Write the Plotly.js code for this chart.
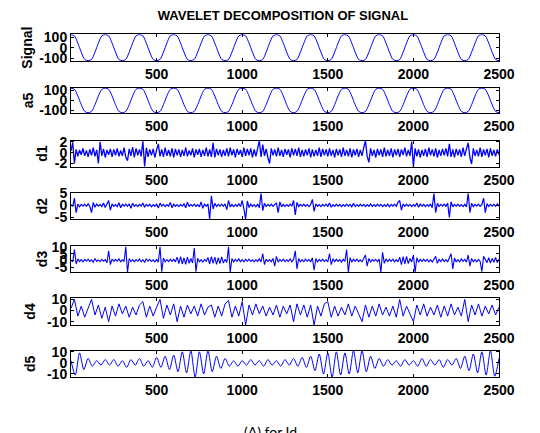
<!DOCTYPE html>
<html>
<head>
<meta charset="utf-8">
<script src="https://cdn.plot.ly/plotly-3.0.1.min.js"></script>
<style>html,body{margin:0;padding:0;background:#fff;}#chart{width:540px;height:433px;}</style>
</head>
<body>
<div id="chart"></div>
<script>
// ---- data ----
const rowNames = ["Signal", "a5", "d1", "d2", "d3", "d4", "d5"];
const xTicks = [500, 1000, 1500, 2000, 2500];

const signalStep = 20;
const signalValues = [
  125,113,43,-43,-113,-125,-113,-43,43,113,
  125,113,43,-43,-113,-125,-113,-43,43,113,
  125,113,43,-43,-113,-125,-113,-43,43,113,
  125,113,43,-43,-113,-125,-113,-43,43,113,
  125,113,43,-43,-113,-125,-113,-43,43,113,
  125,113,43,-43,-113,-125,-113,-43,43,113,
  125,113,43,-43,-113,-125,-113,-43,43,113,
  125,113,43,-43,-113,-125,-113,-43,43,113,
  125,113,43,-43,-113,-125,-113,-43,43,113,
  125,113,43,-43,-113,-125,-113,-43,43,113,
  125,113,43,-43,-113,-125,-113,-43,43,113,
  125,113,43,-43,-113,-125,-113,-43,43,113,
  125,113,43,-43,-113,-125
];

const a5Step = 20;
const a5Values = [
  124,112,44,-44,-112,-125,-112,-44,44,112,
  124,112,44,-44,-112,-125,-112,-44,44,112,
  124,112,44,-44,-112,-125,-112,-44,44,112,
  124,112,44,-44,-112,-125,-112,-44,44,112,
  124,112,44,-44,-112,-125,-112,-44,44,112,
  124,112,44,-44,-112,-125,-112,-44,44,112,
  124,112,44,-44,-112,-125,-112,-44,44,112,
  124,112,44,-44,-112,-125,-112,-44,44,112,
  124,112,44,-44,-112,-125,-112,-44,44,112,
  124,112,44,-44,-112,-125,-112,-44,44,112,
  124,112,44,-44,-112,-125,-112,-44,44,112,
  124,112,44,-44,-112,-125,-112,-44,44,112,
  124,112,44,-44,-112,-125
];

const d1Step = 10;
const d1Values = [
  0.3,1.9,-2.0,0.6,-0.7,0.5,-0.4,0.8,-0.6,0.4,
  -0.8,0.6,-0.5,0.9,-0.7,0.5,-2.0,2.0,-0.6,0.7,
  -0.9,0.5,-0.4,0.7,-0.8,0.6,-0.5,0.8,-0.7,0.4,
  -0.6,0.9,-0.8,-1.5,0.7,-0.6,1.0,-0.9,0.8,-0.5,
  0.6,-0.7,2.1,-2.6,0.9,-0.8,0.6,-0.5,0.7,-0.9,
  0.5,1.6,-0.7,0.6,-0.8,0.9,-0.6,0.5,-0.7,0.8,
  -0.9,0.7,-0.5,0.6,-0.8,0.5,-0.6,0.9,-0.7,0.4,
  -0.5,0.8,-0.9,0.6,-0.4,0.7,-0.8,0.5,-0.6,0.9,
  -0.7,0.6,-0.8,1.8,-0.9,0.7,-0.5,0.6,-0.8,0.5,
  -0.6,0.8,-0.7,0.9,-0.5,0.6,-0.9,0.7,-0.4,0.5,
  -0.8,0.9,-0.6,0.7,-0.5,0.8,-0.9,0.6,-0.7,0.5,
  2.2,-0.8,1.5,-0.6,0.7,-0.9,-2.0,0.8,-0.5,0.6,
  -0.7,0.9,-0.6,0.5,-0.8,0.7,-0.4,0.6,-0.9,0.8,
  -0.5,0.7,-0.6,0.9,-0.8,0.5,-0.7,0.6,-0.5,0.8,
  -0.9,0.6,-0.7,0.5,-0.6,0.9,-0.8,0.7,-0.5,0.6,
  -0.7,0.8,-0.6,0.5,-0.9,0.7,-0.5,0.6,-0.8,0.9,
  -0.6,0.5,-0.7,0.8,-0.9,0.6,-0.5,0.7,-0.8,0.5,
  -0.6,0.9,2.2,-0.7,-1.8,0.8,-0.6,0.5,-0.9,0.7,
  -0.5,0.6,-0.8,0.9,-0.7,0.5,-0.6,0.8,-0.9,0.6,
  -0.5,0.7,-0.8,0.6,-0.4,0.9,-0.7,0.5,-0.6,2.0,
  -2.6,0.8,-0.7,0.6,-0.9,0.5,-0.6,0.7,-0.8,0.9,
  -0.5,0.6,-0.7,0.8,-0.9,0.5,-0.6,0.7,-0.5,0.8,
  -0.7,1.6,-0.8,0.6,-0.9,0.7,-0.5,0.6,-0.8,0.9,
  -0.6,0.7,1.8,-0.9,-2.1,0.8,-0.6,0.5,-0.7,0.9,
  -0.8,0.6,-0.5,0.7,-0.9,0.8,-0.6,0.5,-0.7,0.6,
  -0.4
];

const d2Step = 10;
const d2Values = [
  0.3,-0.4,3.0,-3.0,0.5,-0.6,0.4,-0.3,0.5,-0.4,
  0.6,-0.5,-3.0,1.2,-0.8,0.5,-0.3,0.4,-0.5,1.0,
  -0.9,0.4,2.0,-2.0,0.6,-0.4,0.3,-0.5,1.1,-1.0,
  0.4,-0.3,0.5,-0.4,0.6,-1.2,0.9,-0.4,0.3,-0.5,
  0.4,-0.3,1.0,-0.8,0.4,-0.3,0.5,-0.6,0.3,-0.4,
  0.5,-1.1,0.9,-0.3,0.4,-0.5,0.3,-0.4,1.2,-1.0,
  0.5,-0.4,0.3,-0.5,0.4,-0.3,0.6,-1.0,1.3,-0.5,
  0.4,-0.3,0.5,-0.4,0.3,-0.6,1.4,-1.2,0.5,-0.4,
  0.6,-5.8,4.0,-1.5,0.8,-0.5,0.4,-0.3,0.5,-0.4,
  0.6,-1.8,2.0,-0.7,0.4,-0.5,0.3,-0.4,0.6,-0.5,
  2.0,-1.5,-5.8,1.8,-0.9,0.5,-0.4,0.3,-0.6,0.5,
  -1.0,5.0,-2.2,0.8,-0.5,0.4,-0.3,0.5,-0.4,0.3,
  1.0,-3.0,1.4,-0.6,0.4,-0.5,0.3,-0.4,0.5,-0.3,
  2.0,-4.0,1.2,-0.5,0.4,-0.3,0.5,-0.4,0.3,-0.5,
  0.4,2.5,-2.5,0.6,-0.4,0.3,-0.5,0.4,-0.3,0.5,
  -0.4,1.0,-0.8,0.3,-0.4,0.5,-0.3,0.4,-0.5,0.3,
  -0.4,0.5,-0.3,0.4,-0.6,0.9,-0.5,0.3,-0.4,0.5,
  -0.3,0.4,-0.5,0.3,-0.4,0.6,-0.5,0.3,-0.4,0.5,
  -0.3,0.4,-0.5,0.3,-0.4,0.5,-0.6,0.4,-0.3,0.5,
  -0.4,1.2,2.0,-2.0,0.6,-0.4,0.5,-0.3,0.4,-0.5,
  0.3,-0.4,1.0,-0.8,0.5,-0.3,0.4,-0.5,0.3,-0.4,
  0.6,-1.0,5.0,-3.0,0.8,-0.5,0.4,-0.3,0.5,-0.4,
  0.9,-5.0,1.5,-0.6,0.4,-0.3,0.5,-0.4,0.3,-0.5,
  0.4,-0.6,5.0,-3.0,0.9,-0.5,0.4,-0.3,0.5,-0.4,
  0.3,3.0,-3.0,0.7,-0.5,0.4,-0.3,0.5,-0.4,0.6,
  -0.3
];

const d3Step = 10;
const d3Values = [
  0.5,-1.0,8.0,-2.5,1.2,-0.8,0.6,-1.0,0.8,-0.5,
  1.0,-0.7,0.5,-1.2,1.5,-0.6,0.4,-0.8,0.9,-0.5,
  0.6,-1.5,7.0,-3.0,1.0,-0.6,0.8,-0.5,1.2,-0.9,
  0.5,-0.7,10.0,-8.5,1.5,-0.8,0.6,-1.0,0.7,-0.5,
  1.1,-0.9,0.6,-1.4,1.3,-0.5,0.8,-0.7,0.5,-1.0,
  0.7,-1.2,10.0,-8.0,1.8,-0.9,0.6,-0.8,1.0,-0.6,
  0.9,-1.0,2.5,-2.2,2.8,-2.5,2.0,-2.7,2.4,-2.0,
  1.5,-1.8,9.0,-8.0,1.6,-0.9,0.7,-1.1,0.8,-0.6,
  2.2,-2.5,2.8,-2.0,2.5,-2.8,2.0,-2.3,2.6,-1.8,
  1.0,-1.5,10.0,-8.5,1.5,-1.0,0.8,-0.6,1.2,-0.9,
  0.6,-1.0,0.8,-0.5,1.0,-0.7,0.5,-0.9,0.7,-0.6,
  1.2,-1.0,5.0,-3.0,1.0,-0.7,0.6,-0.9,1.5,-4.0,
  3.0,-1.2,0.8,-0.6,1.0,-0.8,0.5,-0.7,1.3,-1.0,
  0.8,7.0,-6.0,1.4,-0.9,0.6,-0.8,1.0,-0.5,0.7,
  -1.0,2.0,-7.0,1.5,-1.2,0.8,-0.6,1.0,-0.7,0.5,
  -0.9,5.0,-3.0,1.3,-0.8,1.0,-0.6,0.7,-1.1,0.9,
  -0.7,8.0,-8.5,2.0,-1.3,0.9,-0.6,1.0,-0.8,0.5,
  -0.9,1.2,4.0,-4.0,1.5,-1.0,0.7,-0.5,0.9,-0.8,
  1.0,-8.5,6.0,-2.0,1.2,-0.7,0.8,-0.6,1.0,-0.9,
  0.7,-1.0,2.5,-3.0,2.8,-2.5,3.0,-2.2,1.5,-1.0,
  4.0,-8.5,2.0,-1.2,0.9,-0.7,1.0,-0.6,0.8,-0.9,
  0.6,-1.0,1.2,3.0,-2.0,0.9,-0.7,1.1,-0.8,0.6,
  -1.0,1.5,5.0,-6.0,1.8,-1.0,0.7,-0.9,1.2,-0.6,
  0.8,-1.2,4.0,-4.0,1.5,-0.9,0.6,-1.0,0.8,-0.7,
  -8.0,3.0,1.0,-1.5,2.0,-1.8,1.6,-1.2,2.2,-1.5,
  1.0
];

const d4Step = 20;
const d4Values = [
  2,10,-5,4,-6,3,10,-4,5,-7,
  3,-10,4,-5,6,-3,4,-6,3,-4,
  5,8,-6,4,-5,3,10,-7,5,-4,
  6,-10,4,-6,5,-3,4,-5,6,-4,
  3,5,-6,4,-5,6,9,-6,4,-5,
  8,-13,5,-4,6,-3,4,-5,3,-4,
  5,-6,4,-3,5,-10,6,-4,5,-6,
  5,-13,4,-5,6,8,-6,4,-5,3,
  -4,6,-5,4,-3,-10,5,-6,4,-5,
  6,-4,3,-5,4,-6,10,-5,4,-3,
  -10,5,-4,6,-5,3,-4,5,-6,4,
  -5,6,-4,3,-5,10,-10,5,-4,6,
  -5,4,-3,5,-4,3
];

const d5Step = 25;
const d5Values = [
  2,-11,9,-6,4,-3,2,-2,3,-2,
  3,-3,2,-4,3,-2,4,-3,2,-4,
  5,-4,6,-6,7,-8,10,-9,11,-13,
  10,-10,11,-8,6,-5,4,-3,2,-3,
  2,-2,3,-2,2,-3,3,-2,2,-3,
  3,-2,4,-3,5,-4,6,-7,8,-10,
  9,-13,10,-11,9,-10,11,-9,11,-8,
  6,-5,4,-3,3,-2,2,-3,3,-2,
  2,-3,4,-3,3,-2,3,-4,3,-2,
  4,-5,6,-7,8,-9,10,-11,11,-12,
  4
];

// axis settings per row
const yRanges = [[-128,128],[-128,128],[-2.6,2.2],[-5.8,5.0],[-8.5,10.5],[-13,11],[-13,11]];
const yTicks = [[-100,0,100],[-100,0,100],[-2,0,2],[-5,0,5],[-5,0,5,10],[-10,0,10],[-10,0,10]];

const series = [
  {v: signalValues, step: signalStep, shape: 'spline', w: 1},
  {v: a5Values, step: a5Step, shape: 'spline', w: 1},
  {v: d1Values, step: d1Step, shape: 'linear', w: 1.3},
  {v: d2Values, step: d2Step, shape: 'linear', w: 1.2},
  {v: d3Values, step: d3Step, shape: 'linear', w: 1.1},
  {v: d4Values, step: d4Step, shape: 'linear', w: 1},
  {v: d5Values, step: d5Step, shape: 'spline', w: 1}
];

const W = 540, H = 433;
const boxTop = [34.3, 87.7, 140.7, 193.3, 246, 298.3, 350.7];
const boxBot = [61, 113, 166.7, 219.3, 272.3, 325, 377.3];
const labelX = [27, 28, 42, 42, 42, 30, 30];
const xDomain = [71 / W, 499 / W];

const tickFont = {family: 'Liberation Sans Narrow, Arial Narrow, sans-serif', size: 14, color: '#000', weight: 'bold'};

const traces = [];
const layout = {
  width: W, height: H, autosize: false,
  margin: {l: 0, r: 0, t: 0, b: 0},
  paper_bgcolor: '#fff', plot_bgcolor: '#fff',
  showlegend: false,
  title: {text: 'WAVELET DECOMPOSITION OF SIGNAL', x: 283 / W, y: 1 - 15 / H, xanchor: 'center', yanchor: 'middle',
          font: {family: 'Liberation Sans Narrow, Arial Narrow, sans-serif', size: 13, color: '#000', weight: 'bold'}},
  annotations: []
};

series.forEach((s, i) => {
  const n = i + 1;
  const sfx = n === 1 ? '' : String(n);
  traces.push({
    type: 'scatter', mode: 'lines', y: s.v, x0: 0, dx: s.step,
    xaxis: 'x' + sfx, yaxis: 'y' + sfx,
    line: {color: '#0000ff', width: s.w, shape: s.shape, smoothing: 0.8},
    hoverinfo: 'skip'
  });
  const common = {
    ticks: 'inside', ticklen: 3, tickwidth: 1, tickcolor: '#000',
    showline: true, linecolor: '#000', linewidth: 1, mirror: 'allticks',
    showgrid: false, zeroline: false, tickfont: tickFont, fixedrange: true
  };
  layout['xaxis' + sfx] = Object.assign({}, common, {
    domain: xDomain, range: [0, 2500], tickvals: xTicks, ticktext: xTicks.map(String),
    anchor: 'y' + sfx
  });
  layout['yaxis' + sfx] = Object.assign({}, common, {
    domain: [1 - boxBot[i] / H, 1 - boxTop[i] / H], range: yRanges[i],
    tickvals: yTicks[i], ticktext: yTicks[i].map(String), anchor: 'x' + sfx
  });
  layout.annotations.push({
    text: rowNames[i], xref: 'paper', yref: 'paper', showarrow: false,
    x: labelX[i] / W, y: 1 - ((boxTop[i] + boxBot[i]) / 2) / H,
    xanchor: 'center', yanchor: 'middle', textangle: -90,
    font: {family: 'Liberation Sans Narrow, Arial Narrow, sans-serif', size: 14, color: '#000', weight: 'bold'}
  });
});

layout.annotations.push({
  text: '(A) for Id', xref: 'paper', yref: 'paper', showarrow: false,
  x: 270 / W, y: 1 - 431 / H, xanchor: 'center', yanchor: 'middle',
  font: {family: 'Lato, Open Sans, sans-serif', size: 14, color: '#000'}
});

Plotly.newPlot('chart', traces, layout, {staticPlot: true, displayModeBar: false});
</script>
</body>
</html>
